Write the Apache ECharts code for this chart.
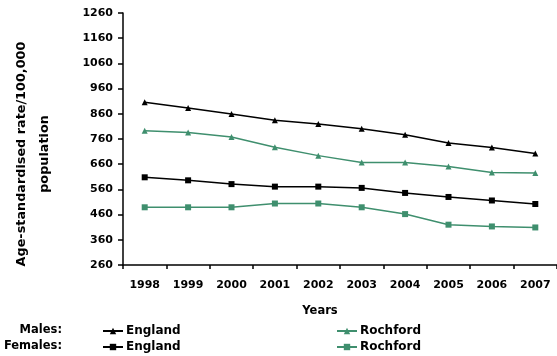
<!DOCTYPE html>
<html><head><meta charset="utf-8">
<script src="https://cdn.jsdelivr.net/npm/echarts@6/dist/echarts.min.js"></script>
<style>html,body{margin:0;padding:0;background:#fff}#c{width:557px;height:356px}</style>
</head><body><div id="c"></div>
<script>
const years = ['1998','1999','2000','2001','2002','2003','2004','2005','2006','2007'];
const malesEngland = [906, 883, 859, 834, 820, 801, 777, 744, 726, 702];
const malesRochford = [793, 786, 768, 727, 694, 667, 667, 651, 627, 625];
const femalesEngland = [608, 596, 581, 571, 571, 566, 546, 530, 516, 502];
const femalesRochford = [489, 489, 489, 504, 504, 489, 462, 420, 413, 409];
const yMin = 260, yMax = 1260, yStep = 100;

const FONT = 'DejaVu Sans';
const GREEN = '#3f8f6e';
const chart = echarts.init(document.getElementById('c'), null, {renderer: 'canvas'});

function line(name, data, color, symbol) {
  return {
    name, type: 'line', data, symbol, symbolSize: 6,
    lineStyle: {color, width: 1.5}, itemStyle: {color},
    animation: false
  };
}
function leg(name, left, top) {
  return {
    data: [name], left, top, itemWidth: 20, itemHeight: 8, itemGap: 0,
    selectedMode: false,
    textStyle: {fontFamily: FONT, fontWeight: 'bold', fontSize: 12, color: '#000', padding: [0,0,0,-2]},
    formatter: n => n.split(' ')[1]
  };
}
chart.setOption({
  animation: false,
  grid: {left: 123, top: 13, width: 436, height: 252, containLabel: false},
  xAxis: {
    type: 'category', data: years, boundaryGap: true,
    axisLine: {lineStyle: {color: '#000', width: 1.5}},
    axisTick: {show: true, length: 4, lineStyle: {color: '#000', width: 1.5}},
    axisLabel: {margin: 15, fontFamily: FONT, fontWeight: 'bold', fontSize: 11, color: '#000'}
  },
  yAxis: {
    type: 'value', min: yMin, max: yMax, interval: yStep,
    splitLine: {show: false},
    axisLine: {show: true, lineStyle: {color: '#000', width: 1.5}},
    axisTick: {show: true, length: 5, lineStyle: {color: '#000', width: 1.5}},
    axisLabel: {margin: 10, fontFamily: FONT, fontWeight: 'bold', fontSize: 11, color: '#000',
      formatter: v => String(v)}
  },
  legend: [
    leg('Males England', 97, 320),
    leg('Males Rochford', 331, 320),
    leg('Females England', 97, 336),
    leg('Females Rochford', 331, 336)
  ],
  graphic: [
    {type: 'text', x: 22, y: 154, rotation: Math.PI/2,
     style: {text: 'Age-standardised rate/100,000', font: 'bold 12.8px "DejaVu Sans"', fill: '#000', textAlign: 'center', textVerticalAlign: 'middle'}},
    {type: 'text', x: 45, y: 154, rotation: Math.PI/2,
     style: {text: 'population', font: 'bold 12.8px "DejaVu Sans"', fill: '#000', textAlign: 'center', textVerticalAlign: 'middle'}},
    {type: 'text', x: 320, y: 311,
     style: {text: 'Years', font: 'bold 11.5px "DejaVu Sans"', fill: '#000', textAlign: 'center', textVerticalAlign: 'middle'}},
    {type: 'text', x: 62, y: 330,
     style: {text: 'Males:', font: 'bold 11.5px "DejaVu Sans"', fill: '#000', textAlign: 'right', textVerticalAlign: 'middle'}},
    {type: 'text', x: 62, y: 346,
     style: {text: 'Females:', font: 'bold 11.5px "DejaVu Sans"', fill: '#000', textAlign: 'right', textVerticalAlign: 'middle'}}
  ],
  series: [
    line('Males England', malesEngland, '#000', 'triangle'),
    line('Males Rochford', malesRochford, GREEN, 'triangle'),
    line('Females England', femalesEngland, '#000', 'rect'),
    line('Females Rochford', femalesRochford, GREEN, 'rect')
  ]
});
</script></body></html>
